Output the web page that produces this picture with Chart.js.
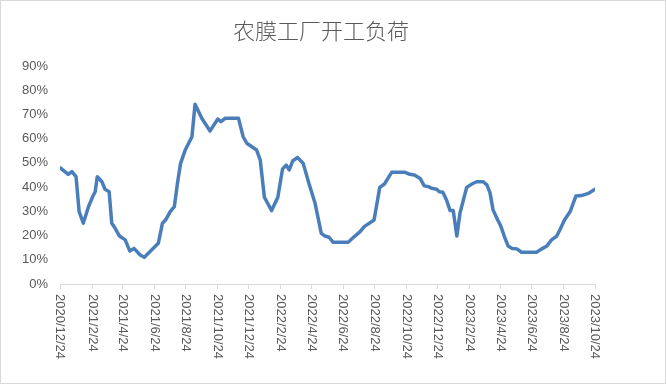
<!DOCTYPE html>
<html>
<head>
<meta charset="utf-8">
<script src="https://cdn.jsdelivr.net/npm/chart.js@4"></script>
<style>
body{margin:0;background:#fff;}
</style>
</head>
<body>
<canvas id="chart" width="666" height="384"></canvas>
<script>
/* ===========================
   农膜工厂开工负荷
=========================== */

// 日期
const dates = [
"2020/12/24","2021/1/9","2021/1/16","2021/1/24","2021/1/30","2021/2/7","2021/2/17","2021/2/25",
"2021/3/2","2021/3/6","2021/3/15","2021/3/21","2021/3/29","2021/4/3","2021/4/9","2021/4/18",
"2021/4/29","2021/5/8","2021/5/16","2021/5/28","2021/6/5","2021/6/19","2021/7/2","2021/7/10",
"2021/7/16","2021/7/25","2021/8/2","2021/8/8","2021/8/14","2021/8/23","2021/9/5","2021/9/11",
"2021/9/24","2021/10/10","2021/10/25","2021/10/31","2021/11/8","2021/12/4","2021/12/13","2021/12/20",
"2022/1/8","2022/1/15","2022/1/23","2022/2/6","2022/2/18","2022/2/27","2022/3/6","2022/3/12",
"2022/3/19","2022/3/28","2022/4/8","2022/4/19","2022/5/1","2022/5/13","2022/5/20","2022/5/28",
"2022/6/5","2022/7/4","2022/7/17","2022/7/27","2022/8/4","2022/8/23","2022/9/3","2022/9/12",
"2022/9/26","2022/10/22","2022/10/31","2022/11/9","2022/11/20","2022/11/28","2022/12/6","2022/12/12",
"2022/12/22","2022/12/27","2023/1/3","2023/1/10","2023/1/17","2023/1/23","2023/1/30","2023/2/5",
"2023/2/18","2023/2/28","2023/3/9","2023/3/22","2023/3/29","2023/4/4","2023/4/10","2023/4/19",
"2023/4/25","2023/5/3","2023/5/9","2023/5/17","2023/5/26","2023/6/4","2023/7/3","2023/7/13",
"2023/7/23","2023/8/1","2023/8/11","2023/8/17","2023/8/26","2023/9/6","2023/9/17","2023/9/28",
"2023/10/11","2023/10/24"
];

// 开工负荷 %
const load = [
48,45.3,46.4,44.3,29.9,25.1,31.9,36,
38.1,44.3,42.2,39.1,38.1,25.1,23.2,19.8,
18.2,13.6,14.7,12,11,14,16.8,25.1,
26.4,29.9,31.9,41.6,49.8,55.3,60.8,74.2,
68.4,63.2,68.1,67,68.4,68.4,60.8,58.1,
55.3,51.2,35.8,30.3,35.8,47.4,49.1,47.1,
50.9,52.2,49.8,41.6,33.3,20.9,19.8,19.3,
17.2,17.2,19.8,21.6,23.7,26.4,39.9,41.3,
46.1,46.1,45.3,45,43.6,40.5,40.2,39.5,
39.1,38.1,37.9,34.7,30.3,30.3,19.8,29.2,
39.9,41.3,42.2,42.2,40.9,37.7,30.6,26.4,
23.9,18.9,15.7,14.7,14.5,13.1,13.1,14.5,
15.7,18.2,19.8,22.3,26.4,29.9,36.3,36.5,
37.4,39.1
];

// 横轴刻度
const tickLabels = [
"2020/12/24","2021/2/24","2021/4/24","2021/6/24","2021/8/24","2021/10/24",
"2021/12/24","2022/2/24","2022/4/24","2022/6/24","2022/8/24","2022/10/24",
"2022/12/24","2023/2/24","2023/4/24","2023/6/24","2023/8/24","2023/10/24"
];

const yTicks = [0,10,20,30,40,50,60,70,80,90];


// 日期 -> 天数
const base = new Date(tickLabels[0]);

function toDay(s){
return Math.round((new Date(s)-base)/86400000);
}

const textColor = "#595959";
const lineGray = "#d9d9d9";


// 外框 + 白底
const framePlugin = {
id:"frame",
beforeDraw(chart){
const ctx = chart.ctx;
ctx.save();
ctx.fillStyle="#fff";
ctx.fillRect(0,0,chart.width,chart.height);
ctx.strokeStyle=lineGray;
ctx.lineWidth=1;
ctx.strokeRect(0.5,0.5,chart.width-1,chart.height-1);
ctx.restore();
}
};


// 竖排日期标签（从上往下读）
const xLabelPlugin = {
id:"xLabels",
afterDraw(chart){
const ctx = chart.ctx;
const xs = chart.scales.x;
ctx.save();
ctx.fillStyle=textColor;
ctx.font='13px "Liberation Sans"';
ctx.textAlign="left";
ctx.textBaseline="middle";
tickLabels.forEach(t=>{
const x = xs.getPixelForValue(toDay(t));
ctx.save();
ctx.translate(x, xs.top+10);
ctx.rotate(Math.PI/2);
ctx.fillText(t,0,0);
ctx.restore();
});
ctx.restore();
}
};


new Chart(

document.getElementById("chart"),

{

type:"line",

data:{

datasets:[{

data:load.map((v,i)=>({x:toDay(dates[i]),y:v})),

borderColor:"#4a7ebb",

borderWidth:3.5,

borderJoinStyle:"round",

borderCapStyle:"round",

pointRadius:0,

tension:0,

fill:false

}]

},

options:{

responsive:false,

devicePixelRatio:1,

animation:false,

// 右边留24，标题居中在 ~321
layout:{padding:{left:0,right:24,top:0,bottom:0}},

plugins:{

legend:{display:false},

tooltip:{enabled:false},

title:{
display:true,
text:"农膜工厂开工负荷",
color:textColor,
font:{family:'"Noto Sans CJK SC"',size:22,weight:"300"},
padding:{top:17,bottom:22.6}
}

},

scales:{

x:{
type:"linear",
min:toDay(tickLabels[0]),
max:toDay(tickLabels[tickLabels.length-1]),
afterBuildTicks(s){ s.ticks = tickLabels.map(t=>({value:toDay(t)})); },
afterFit(s){ s.height = 100; },
ticks:{display:false},
grid:{display:true,drawOnChartArea:false,drawTicks:true,tickLength:5,color:lineGray},
border:{display:true,color:lineGray,width:1}
},

y:{
min:yTicks[0],
max:yTicks[yTicks.length-1],
afterBuildTicks(s){ s.ticks = yTicks.map(v=>({value:v})); },
afterFit(s){ s.width = 60; },
ticks:{
color:textColor,
font:{family:'"Liberation Sans"',size:13},
padding:12,
callback:v=>v+"%"
},
grid:{display:false,drawTicks:false},
border:{display:false}
},

// 右侧空白轴，只占位置
yRight:{
position:"right",
afterFit(s){ s.width = 47; },
ticks:{display:false},
grid:{display:false,drawTicks:false},
border:{display:false}
}

}

},

plugins:[framePlugin,xLabelPlugin]

}

);
</script>
</body>
</html>
